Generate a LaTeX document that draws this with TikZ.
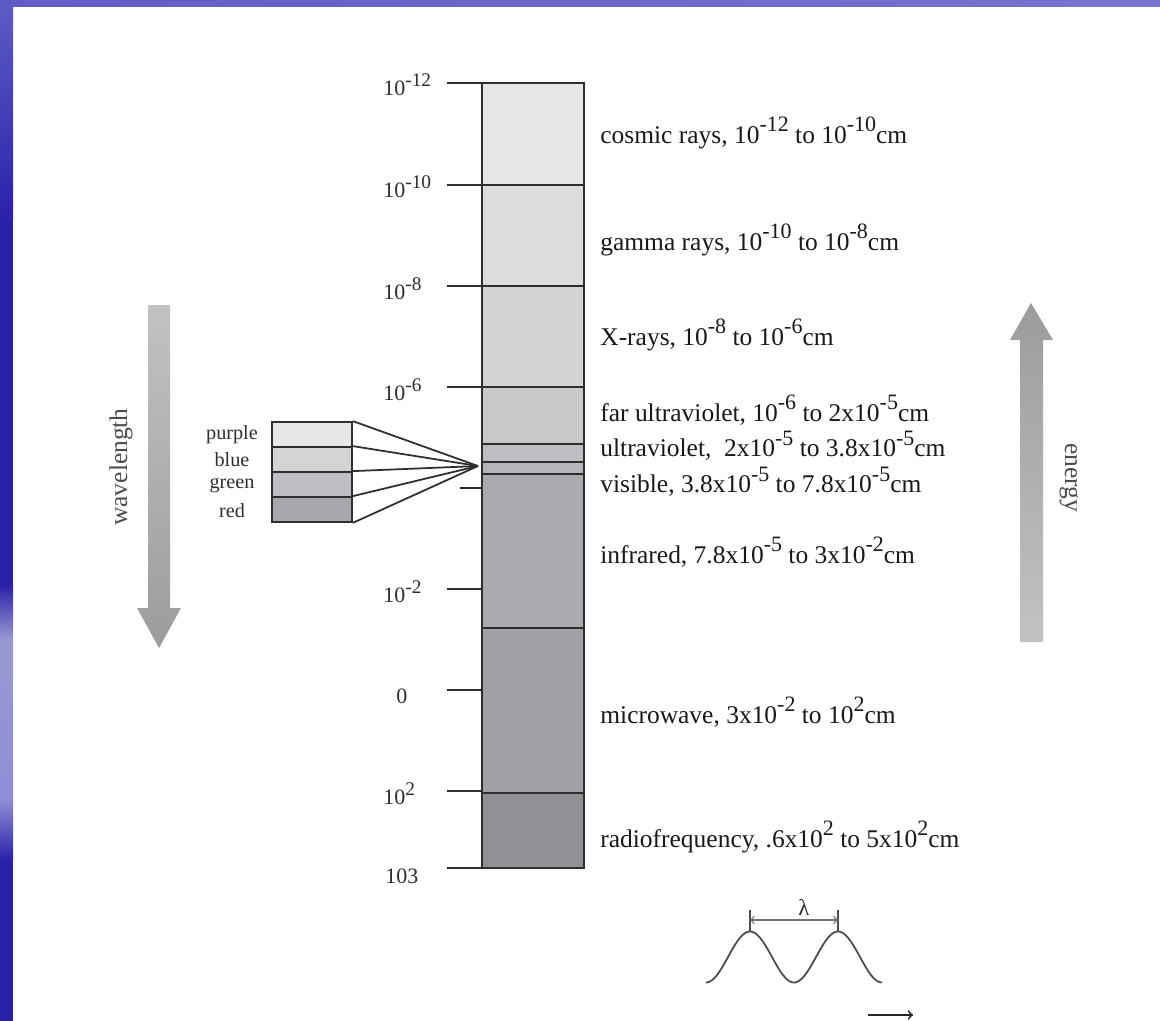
\documentclass[tikz,border=0pt]{standalone}
\usepackage{fontspec}
\setmainfont{Liberation Serif}
\usepackage{tikz}
\usetikzlibrary{positioning}
\usepackage{xcolor}

\definecolor{bandA}{HTML}{E6E6E6}
\definecolor{bandB}{HTML}{DCDCDD}
\definecolor{bandC}{HTML}{D3D3D4}
\definecolor{bandD}{HTML}{C9C9CB}
\definecolor{bandE}{HTML}{BDBEC1}
\definecolor{bandF}{HTML}{B5B6B9}
\definecolor{bandG}{HTML}{AAABAE}
\definecolor{bandH}{HTML}{A0A1A4}
\definecolor{bandI}{HTML}{909194}
\definecolor{swA}{HTML}{E6E6E6}
\definecolor{swB}{HTML}{D4D4D6}
\definecolor{swC}{HTML}{BEBFC2}
\definecolor{swD}{HTML}{A6A7AA}
\definecolor{arrlight}{HTML}{C2C2C4}
\definecolor{arrdark}{HTML}{9C9C9F}
\definecolor{stripdark}{HTML}{2A21A9}
\definecolor{stripmid}{HTML}{5F5CC6}
\definecolor{striplight}{HTML}{9A98D2}
\definecolor{inkgray}{HTML}{2E2E2E}

\newcommand{\bandsup}[1]{\raisebox{0.45em}{\fontsize{12.5}{13}\selectfont #1}}
\newcommand{\ticksup}[1]{\raisebox{0.4em}{\fontsize{11}{12}\selectfont #1}}

\begin{document}
\begin{tikzpicture}[
x=0.02cm, y=-0.02cm,
band/.style={draw=inkgray, line width=1pt},
tick/.style={draw=inkgray, line width=1pt},
ticklbl/.style={font=\fontsize{12.5}{14}\selectfont, text=inkgray, anchor=west, inner sep=0},
bandlbl/.style={font=\fontsize{14.5}{16}\selectfont, text=black!90, anchor=west, inner sep=0},
swatch/.style={rectangle, draw=inkgray, line width=1pt, minimum width=1.6cm, minimum height=0.5cm, inner sep=0},
swlbl/.style={font=\fontsize{11.5}{12}\selectfont, text=inkgray, inner sep=0},
fan/.style={draw=inkgray, line width=1pt},
sidelbl/.style={font=\fontsize{14.5}{16}\selectfont, text=black!70, inner sep=0},
wave/.style={draw=black!70, line width=1pt}
]
\useasboundingbox (0,0) rectangle (1160,1021);
\fill[white] (0,0) rectangle (1160,1021);
\shade[left color=stripmid, right color=stripmid!85!white] (0,0) rectangle (1160,6);
\shade[top color=stripmid, bottom color=stripdark] (0,0) rectangle (13,220);
\fill[stripdark] (0,220) rectangle (13,585);
\shade[top color=stripdark, bottom color=striplight] (0,585) rectangle (13,640);
\shade[top color=striplight, bottom color=stripmid!70!white] (0,640) rectangle (13,800);
\shade[top color=stripmid!70!white, bottom color=stripdark] (0,800) rectangle (13,860);
\fill[stripdark] (0,860) rectangle (13,1021);

\foreach \ya/\yb/\col in {83/185/bandA, 185/286/bandB, 286/387/bandC, 387/444/bandD,
  444/462/bandE, 462/474/bandF, 474/628/bandG, 628/793/bandH, 793/868/bandI}
  \draw[band, fill=\col] (482,\ya) rectangle (584,\yb);

\foreach \y/\dy/\lx/\lab in {83/2/383/10\ticksup{-12}, 185/2/383/10\ticksup{-10},
  286/3/383/10\ticksup{-8}, 387/3/383/10\ticksup{-6}, 589/3/383/10\ticksup{-2},
  690/6/396/0, 791/3/383/10\ticksup{2}, 868/8/385/103}{
  \draw[tick] (447,\y) -- (482,\y);
  \node[ticklbl] (t\y) at (\lx,\y+\dy) {\lab};
}
\draw[tick] (460,488) -- (482,488);

\node[bandlbl] (cosmic) at (600,133) {cosmic rays, 10\bandsup{-12} to 10\bandsup{-10}cm};
\node[bandlbl] (gamma) at (600,240) {gamma rays, 10\bandsup{-10} to 10\bandsup{-8}cm};
\node[bandlbl] (xray) at (600,335) {X-rays, 10\bandsup{-8} to 10\bandsup{-6}cm};
\node[bandlbl] (faruv) at (600,410) {far ultraviolet, 10\bandsup{-6} to 2x10\bandsup{-5}cm};
\node[bandlbl] (uv) at (600,446) {ultraviolet,\ \ 2x10\bandsup{-5} to 3.8x10\bandsup{-5}cm};
\node[bandlbl] (vis) at (600,482) {visible, 3.8x10\bandsup{-5} to 7.8x10\bandsup{-5}cm};
\node[bandlbl] (ir) at (600,552) {infrared, 7.8x10\bandsup{-5} to 3x10\bandsup{-2}cm};
\node[bandlbl] (micro) at (600,712) {microwave, 3x10\bandsup{-2} to 10\bandsup{2}cm};
\node[bandlbl] (radio) at (600,837) {radiofrequency, .6x10\bandsup{2} to 5x10\bandsup{2}cm};

\node[swatch, fill=swA] (purple) at (312,434.5) {};
\node[swatch, fill=swB, below=-1pt of purple] (blue) {};
\node[swatch, fill=swC, below=-1pt of blue] (green) {};
\node[swatch, fill=swD, below=-1pt of green] (red) {};
\node[swlbl] (purplelbl) at (232,434.5) {purple};
\node[swlbl] (bluelbl) at (232,460) {blue};
\node[swlbl] (greenlbl) at (232,485.5) {green};
\node[swlbl] (redlbl) at (232,510.5) {red};
\coordinate (fan) at (478,466);
\draw[fan] (purple.north east) -- (fan);
\draw[fan] (blue.north east) -- (fan);
\draw[fan] (green.north east) -- (fan);
\draw[fan] (red.north east) -- (fan);
\draw[fan] (red.south east) -- (fan);

\shade[top color=arrlight, bottom color=arrdark] (148,305) -- (170,305) -- (170,608)
  -- (181,608) -- (159,648) -- (137,608) -- (148,608) -- cycle;
\shade[top color=arrdark, bottom color=arrlight] (1020,642) -- (1043,642) -- (1043,340)
  -- (1053,340) -- (1031,303) -- (1010,340) -- (1020,340) -- cycle;
\node[sidelbl, rotate=90] (wavelbl) at (121,467) {wavelength};
\node[sidelbl, rotate=-90] (energylbl) at (1069,478) {energy};

\draw[wave] plot[domain=706:882, samples=90, smooth] (\x,{957-25.5*cos(4.0909*(\x-750))});
\coordinate (pk1) at (750,932);
\coordinate (pk2) at (838,932);
\coordinate (top1) at (750,910);
\coordinate (top2) at (838,910);
\coordinate (dim1) at (750,920);
\coordinate (dim2) at (838,920);
\draw[wave] (pk1) -- (top1);
\draw[wave] (pk2) -- (top2);
\draw[<->, black!55, line width=0.8pt] (dim1) -- (dim2);
\node[swlbl, font=\fontsize{13}{14}\selectfont] (lam) at (804,907) {λ};
\coordinate (dir1) at (868,1015);
\coordinate (dir2) at (913,1015);
\draw[->, line width=1pt, black!85] (dir1) -- (dir2);
\end{tikzpicture}
\end{document}
